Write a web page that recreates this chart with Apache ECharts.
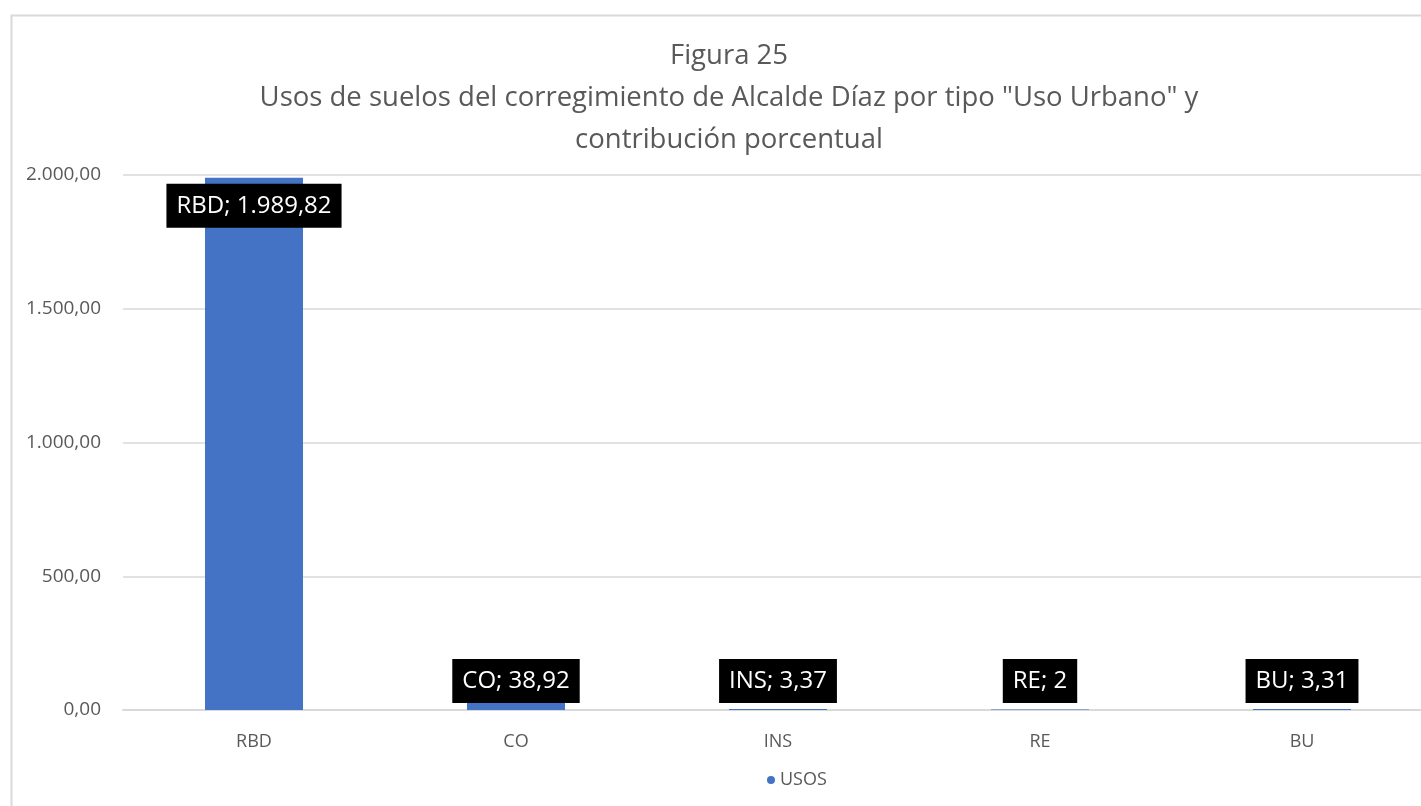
<!DOCTYPE html>
<html>
<head>
<meta charset="utf-8">
<script src="https://cdn.jsdelivr.net/npm/echarts@6/dist/echarts.min.js"></script>
<style>html,body{margin:0;padding:0;background:#fff;overflow:hidden;}#c{width:1440px;height:806px;}</style>
</head>
<body>
<div id="c"></div>
<script>
const categories = ['RBD', 'CO', 'INS', 'RE', 'BU'];
const usos = [1989.82, 38.92, 3.37, 2, 3.31];
const seriesName = 'USOS';
const titleLines = ['Figura 25', 'Usos de suelos del corregimiento de Alcalde Díaz por tipo "Uso Urbano" y', 'contribución porcentual'];

function fmt(v, dec) {
  const neg = v < 0; v = Math.abs(v);
  let s = dec != null ? v.toFixed(dec) : String(Math.round(v * 100) / 100);
  let [i, d] = s.split('.');
  i = i.replace(/\B(?=(\d{3})+(?!\d))/g, '.');
  return (neg ? '-' : '') + i + (d ? ',' + d : '');
}

const FONT = 'Open Sans';
const chart = echarts.init(document.getElementById('c'), null, {renderer: 'canvas'});
chart.setOption({
  backgroundColor: '#fff',
  animation: false,
  textStyle: {fontFamily: FONT},
  graphic: [{
    type: 'rect', z: -10, silent: true,
    shape: {x: 11.5, y: 15.5, width: 1460, height: 840},
    style: {fill: 'none', stroke: '#d9d9d9', lineWidth: 2}
  }],
  title: {
    text: titleLines.join('\n'),
    left: 724, top: 30, textAlign: 'center',
    textStyle: {fontFamily: FONT, fontWeight: 'normal', fontSize: 27.5, color: '#595959', lineHeight: 42}
  },
  legend: {
    data: [seriesName], top: 766, left: 762, icon: 'circle', itemWidth: 8, itemHeight: 8, itemGap: 6,
    textStyle: {fontFamily: FONT, fontSize: 18, color: '#595959'}
  },
  grid: {left: 123, right: 7, top: 175, bottom: 96, containLabel: false},
  xAxis: {
    type: 'category', data: categories,
    axisLine: {lineStyle: {color: '#d9d9d9', width: 2}},
    axisTick: {show: false},
    axisLabel: {fontFamily: FONT, fontSize: 18, color: '#595959', margin: 23}
  },
  yAxis: {
    type: 'value', min: 0, max: 2000, interval: 500,
    axisLine: {show: false}, axisTick: {show: false},
    splitLine: {lineStyle: {color: '#d9d9d9', width: 1.5}},
    axisLabel: {fontFamily: FONT, fontSize: 19, color: '#595959', margin: 22, formatter: v => fmt(v, 2)}
  },
  series: [{
    name: seriesName, type: 'bar', barWidth: '37.4%',
    itemStyle: {color: '#4472c4'},
    data: usos.map((v, i) => ({
      value: v,
      label: i === 0 ? {position: 'insideTop', distance: 6} : {position: 'insideBottom', distance: 7}
    })),
    label: {
      show: true,
      formatter: p => p.name + '; ' + fmt(p.value),
      backgroundColor: '#000', color: '#fff', fontFamily: FONT, fontSize: 24, lineHeight: 24,
      padding: [10, 10, 10, 10]
    }
  }]
});
</script>
</body>
</html>
